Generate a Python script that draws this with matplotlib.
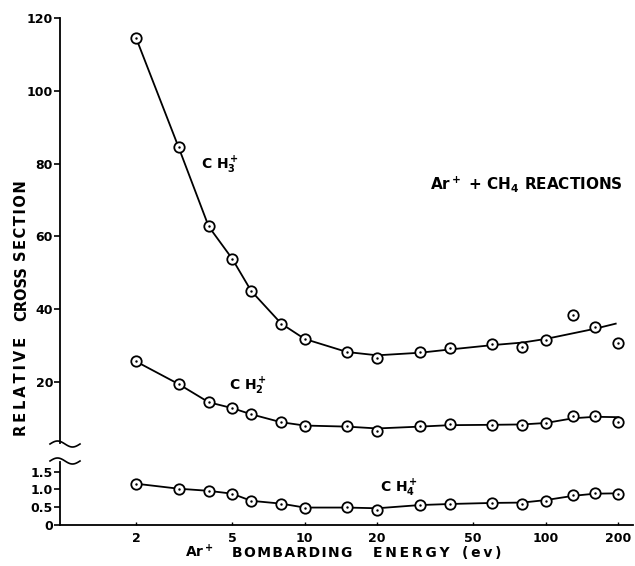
import numpy as np
import matplotlib
matplotlib.use("Agg")
import matplotlib.pyplot as plt
from matplotlib.lines import Line2D

# -------------------------------
# Data
# -------------------------------

energy = [2, 3, 4, 5, 6, 8, 10, 15, 20, 30, 40, 60, 80, 100, 130, 160, 200]

ch3 = [114.5, 84.5, 62.7, 53.9, 45.0, 36.0, 31.8, 28.2, 26.6, 28.3, 29.4,
       30.3, 29.7, 31.4, 38.3, 35.0, 30.8]
ch2 = [25.6, 19.4, 14.4, 12.8, 11.1, 8.9, 8.0, 7.9, 6.5, 7.9, 8.4,
       8.1, 8.1, 8.6, 10.6, 10.6, 9.0]
ch4 = [1.16, 1.02, 0.96, 0.88, 0.68, 0.60, 0.48, 0.51, 0.42, 0.57, 0.60,
       0.62, 0.60, 0.68, 0.85, 0.91, 0.88]

# hand drawn smooth curves
ch3_fit_x = [2, 3, 4, 5, 6, 8, 10, 15, 20, 30, 40, 60, 80, 100, 160, 195]
ch3_fit_y = [114.5, 84.5, 62.7, 53.9, 45.0, 36.0, 31.8, 28.2, 27.3, 28.0,
             28.9, 30.1, 30.8, 31.8, 34.6, 36.0]
ch2_fit_x = energy
ch2_fit_y = [25.6, 19.4, 14.4, 12.8, 11.1, 8.9, 8.0, 7.7, 7.2, 7.7, 8.1,
             8.2, 8.3, 8.7, 10.0, 10.4, 10.3]
ch4_fit_x = energy
ch4_fit_y = [1.16, 1.02, 0.96, 0.88, 0.68, 0.60, 0.49, 0.49, 0.47, 0.56, 0.59,
             0.62, 0.63, 0.70, 0.82, 0.88, 0.89]

xticks = [2, 5, 10, 20, 50, 100, 200]
upper_ticks = [20, 40, 60, 80, 100, 120]
lower_ticks = [0, 0.5, 1.0, 1.5]
lower_labels = ["0", "0.5", "1.0", "1.5"]

# -------------------------------
# Figure
# -------------------------------

plt.rcParams["font.family"] = "DejaVu Sans"
plt.rcParams["font.weight"] = "bold"
plt.rcParams["mathtext.default"] = "bf"

THIN, HAIR = "\u2009", "\u200a"


def spaced(word, sp):
    # widen letter spacing like the hand lettering
    return sp.join(word)


W, H = 635, 566
fig = plt.figure(figsize=(W / 100, H / 100), dpi=100)

left, right = 60 / W, 633 / W
ax1 = fig.add_axes([left, 1 - 443 / H, right - left, (443 - 18) / H])
ax2 = fig.add_axes([left, 1 - 525 / H, right - left, (525 - 462) / H])

xlim = (0.967, 230)
for ax in (ax1, ax2):
    ax.set_xscale("log")
    ax.set_xlim(*xlim)
    ax.spines["top"].set_visible(False)
    ax.spines["right"].set_visible(False)
    ax.spines["left"].set_linewidth(1.3)
    ax.spines["bottom"].set_linewidth(1.3)
    ax.tick_params(axis="y", direction="out", length=4, width=1.2,
                   labelsize=9, pad=1)
    ax.minorticks_off()

ax1.set_ylim(3.2, 120)
ax1.spines["bottom"].set_visible(False)
ax1.set_xticks([])
ax1.set_yticks(upper_ticks)

ax2.set_ylim(0, 1.77)
ax2.set_yticks(lower_ticks)
ax2.set_yticklabels(lower_labels)
ax2.set_xticks(xticks)
ax2.set_xticklabels([str(t) for t in xticks])
ax2.tick_params(axis="x", direction="in", length=2, width=1, labelsize=9,
                pad=5)

mk = dict(marker="o", markersize=7.5, markerfacecolor="white",
          markeredgecolor="black", markeredgewidth=1.3, linestyle="none",
          zorder=3)
dot = dict(marker=".", markersize=1.5, color="black", linestyle="none",
           zorder=4)

ax1.plot(ch3_fit_x, ch3_fit_y, color="black", lw=1.3)
ax1.plot(ch2_fit_x, ch2_fit_y, color="black", lw=1.3)
ax2.plot(ch4_fit_x, ch4_fit_y, color="black", lw=1.3)

for ax, ys in ((ax1, ch3), (ax1, ch2), (ax2, ch4)):
    ax.plot(energy, ys, **mk, clip_on=False)
    ax.plot(energy, ys, **dot, clip_on=False)

ax1.text(3.7, 79.5, r"C H$_3^+$", fontsize=10, ha="left", va="center")
ax1.text(33.2, 74.3, r"Ar$^+$ + CH$_4$ REACTIONS", fontsize=11,
         ha="left", va="center")
ax1.text(4.87, 18.9, r"C H$_2^+$", fontsize=10, ha="left", va="center")
ax2.text(20.6, 1.04, r"C H$_4^+$", fontsize=10, ha="left", va="center")

# x label, word by word
xbase = 1 - 557 / H
fig.text(185 / W, xbase, r"Ar$^+$", fontsize=10, ha="left", va="baseline")
fig.text(232 / W, xbase, spaced("BOMBARDING", HAIR), fontsize=10,
         ha="left", va="baseline")
fig.text(373 / W, xbase, spaced("ENERGY", THIN), fontsize=10,
         ha="left", va="baseline")
fig.text(462 / W, xbase, spaced("(ev)", THIN), fontsize=10,
         ha="left", va="baseline")

# y label, word by word
ylx = 22 / W
fig.text(ylx, 1 - 386 / H, spaced("RELATIVE", THIN), fontsize=10.5,
         rotation=90, ha="center", va="center")
fig.text(ylx, 1 - 294 / H, "CROSS", fontsize=10.5,
         rotation=90, ha="center", va="center")
fig.text(ylx, 1 - 221 / H, spaced("SECTION", HAIR), fontsize=10.5,
         rotation=90, ha="center", va="center")

# axis break squiggles
t = np.linspace(0, 1, 40)
for yp in (444, 461):
    xs = (50 + 30 * t) / W
    ys = 1 - (yp - 3 * np.sin(2 * np.pi * t)) / H
    fig.add_artist(Line2D(xs, ys, color="black", lw=1.2,
                          transform=fig.transFigure))

fig.savefig("out.png", dpi=100)
